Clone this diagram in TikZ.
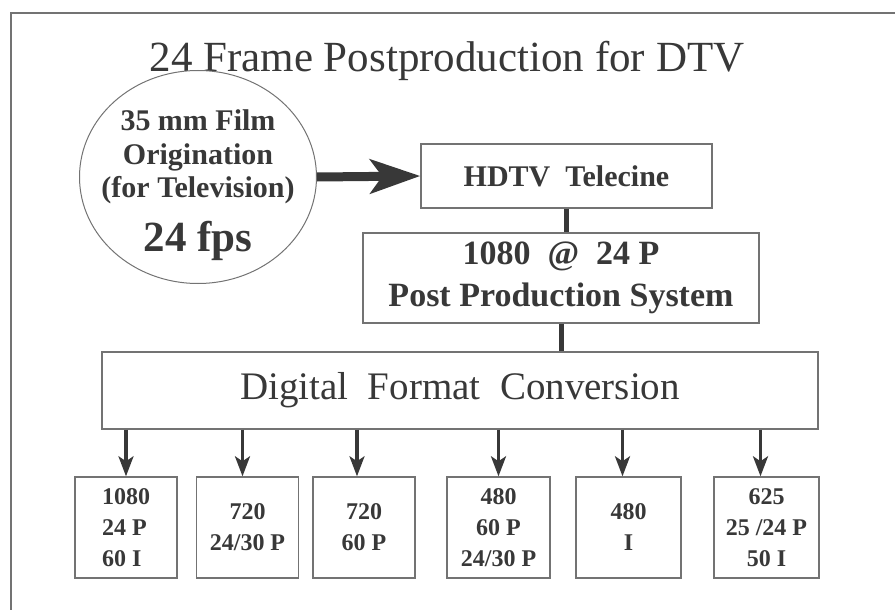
\documentclass[tikz,border=0pt]{standalone}
\usepackage{fontspec}
\setmainfont{Liberation Serif}
\usepackage{tikz}
\usetikzlibrary{arrows.meta}
\usetikzlibrary{shapes.geometric}
\definecolor{ink}{rgb}{0.22,0.22,0.22}
\definecolor{rule}{rgb}{0.45,0.45,0.45}

\begin{document}
\begin{tikzpicture}[
			x=1pt, y=-1pt,
			every node/.style={text=ink, inner sep=0pt},
			box/.style={draw=rule, line width=1.4pt, rectangle},
			fmt/.style={box, minimum width=102pt, minimum height=101pt, align=center,
					font=\fontsize{24}{31}\selectfont\bfseries},
			link/.style={draw=ink, line width=5pt},
			down/.style={draw=ink, line width=3.2pt, -{Stealth[length=20pt, width=15pt, inset=5pt]}}
		]
		\useasboundingbox (0,0) rectangle (895,610);

		% --- Frame ---
		\draw[rule, line width=1.6pt] (11,610) -- (11,13) -- (895,13);

		% --- Title ---
		\node[anchor=base, font=\fontsize{43}{43}\selectfont] (title) at (447,72)
		{24 Frame Postproduction for DTV};

		% --- Film source ---
		\node (film) at (198,177) [ellipse, draw=rule, line width=1pt,
				minimum width=237pt, minimum height=213pt] {};
		\node (filmtxt) at (198,185) [align=center, font=\fontsize{30}{34}\selectfont\bfseries]
		{35 mm Film\\Origination\\(for Television)\\[16pt]{\fontsize{43}{50}\selectfont 24 fps}};

		% --- Telecine and post ---
		\node (tele) at (566.5,176) [box, minimum width=291pt, minimum height=64pt,
				font=\fontsize{30}{30}\selectfont\bfseries] {HDTV\ \ Telecine};
		\node (post) at (561,278) [box, minimum width=396pt, minimum height=90pt, align=center,
				font=\fontsize{34}{42}\selectfont\bfseries] {1080\ \ @\ \ 24 P\\Post Production System};
		\node (conv) at (460,390.5) [box, minimum width=716pt, minimum height=77pt,
				font=\fontsize{39}{39}\selectfont] {Digital\ \ Format\ \ Conversion};

		% --- Output formats ---
		\node (f1) at (126,527.5) [fmt, align=left] {1080\\24 P\\60 I};
		\node (f2) at (247.5,527.5) [fmt] {720\\24/30 P};
		\node (f3) at (364,527.5) [fmt] {720\\60 P};
		\node (f4) at (498.5,527.5) [fmt, minimum width=103pt] {480\\60 P\\24/30 P};
		\node (f5) at (628.5,527.5) [fmt, minimum width=105pt] {480\\I};
		\node (f6) at (766.5,527.5) [fmt, minimum width=105pt] {625\\25 /24 P\\50 I};

		% --- Connectors ---
		\draw[draw=ink, line width=9pt, -{Stealth[length=50pt, width=34pt, inset=12pt]}]
		(film.east) -- (tele.west);
		\draw[link] (tele.south) -- (tele.south |- post.north);
		\draw[link] (post.south) -- (post.south |- conv.north);
		\foreach \f/\dx in {f1/0, f2/-5, f3/-7, f4/0, f5/-6, f6/-6}
		\draw[down] ([xshift=\dx pt]\f.north |- conv.south) -- ([xshift=\dx pt]\f.north);

	\end{tikzpicture}
\end{document}
